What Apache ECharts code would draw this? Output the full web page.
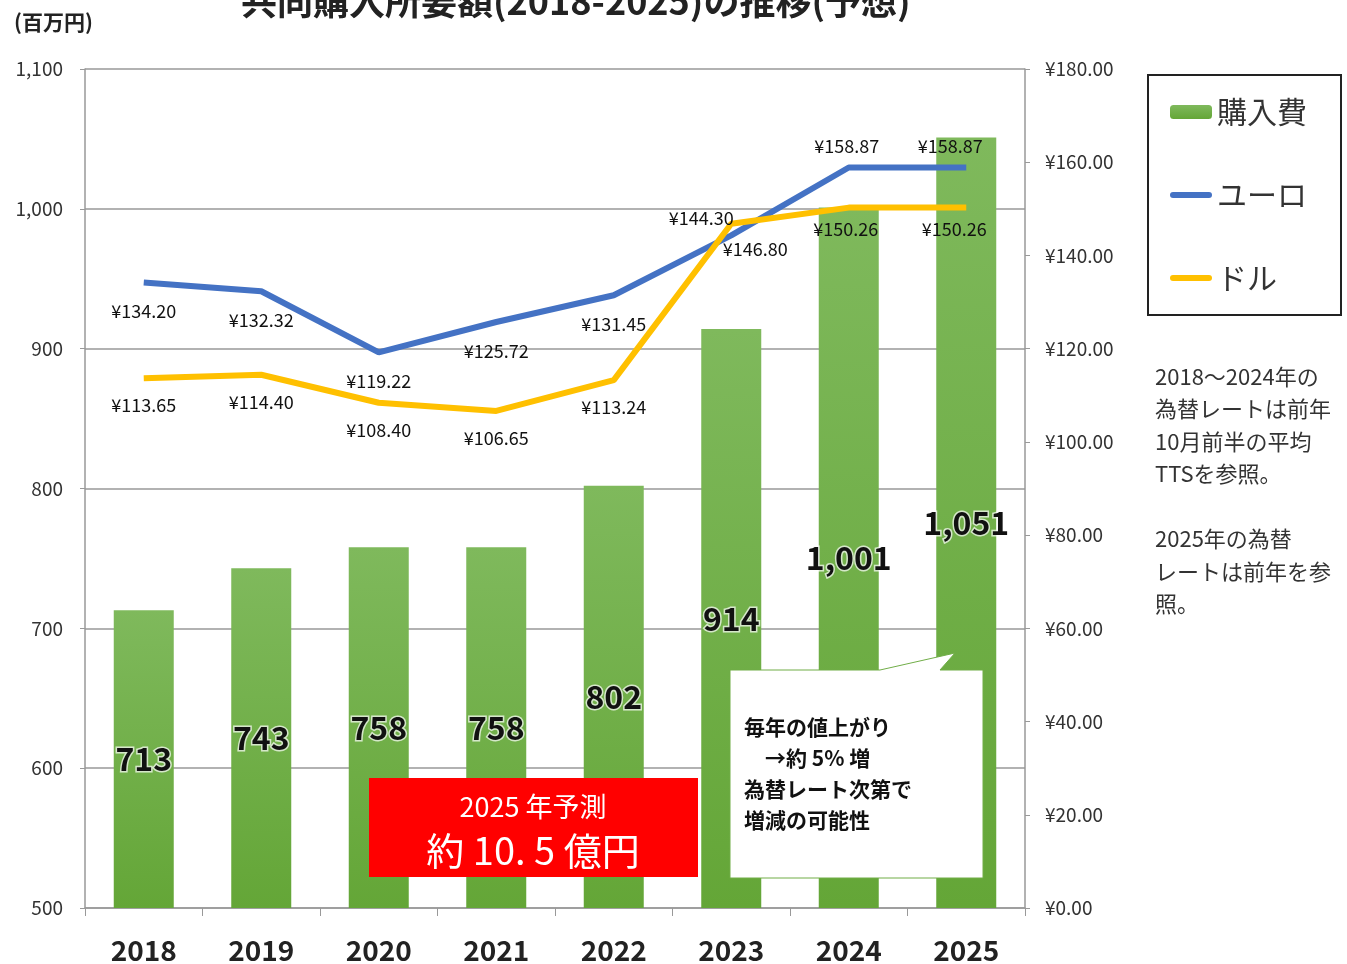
<!DOCTYPE html>
<html>
<head>
<meta charset="utf-8">
<script src="https://cdn.jsdelivr.net/npm/echarts@6/dist/echarts.min.js"></script>
<style>
html, body { margin: 0; padding: 0; background: #fff; }
#chart { width: 1347px; height: 964px; }
</style>
</head>
<body>
<div id="chart"></div>
<script>
var years = ['2018', '2019', '2020', '2021', '2022', '2023', '2024', '2025'];
var cost = [713, 743, 758, 758, 802, 914, 1001, 1051];
var euro = [134.20, 132.32, 119.22, 125.72, 131.45, 144.30, 158.87, 158.87];
var dollar = [113.65, 114.40, 108.40, 106.65, 113.24, 146.80, 150.26, 150.26];
var font = '"Noto Sans CJK JP", "Noto Sans", sans-serif';
var lineIcon = 'path://M3,0 L39,0 A3,3 0 0 1 39,6 L3,6 A3,3 0 0 1 3,0 Z';

// euro labels: below for the first years, above from 2023
var euroOffsets = [[0, 0], [0, 0], [0, 0], [0, 0], [0, 0], [-30, 4], [-2, 0], [-16, 0]];
var euroData = euro.map(function (v, i) {
	return {
		value: v,
		label: { position: i < 5 ? 'bottom' : 'top', distance: i < 5 ? 20 : 12, offset: euroOffsets[i] }
	};
});
var dollarOffsets = [[0, 0], [0, 0], [0, 0], [0, 0], [0, 0], [24, -2], [-3, -5], [-12, -5]];
var dollarData = dollar.map(function (v, i) {
	return { value: v, label: { offset: dollarOffsets[i] } };
});

var chart = echarts.init(document.getElementById('chart'));
chart.setOption({
	textStyle: { fontFamily: font },
	title: {
		text: '共同購入所要額(2018-2025)の推移(予想)',
		left: 236,
		top: -22,
		textStyle: { fontSize: 36, fontWeight: 'bold', color: '#222', fontFamily: font }
	},
	grid: { left: 85, right: 322, top: 69, bottom: 56 },
	legend: {
		orient: 'vertical',
		left: 1148,
		top: 75,
		width: 150,
		padding: [22, 34, 22, 22],
		itemGap: 53,
		itemWidth: 42,
		itemHeight: 14,
		borderColor: '#222',
		borderWidth: 2,
		data: [
			{ name: '購入費' },
			{ name: 'ユーロ', icon: lineIcon },
			{ name: 'ドル', icon: lineIcon }
		],
		textStyle: { fontSize: 30, color: '#333', padding: [0, 24, 0, 0] }
	},
	xAxis: {
		type: 'category',
		data: years,
		axisLine: { lineStyle: { color: '#999', width: 1.5 } },
		axisTick: { show: true, length: 8, lineStyle: { color: '#999' } },
		axisLabel: { fontSize: 28, fontWeight: 'bold', color: '#222', margin: 28 }
	},
	yAxis: [{
		type: 'value',
		min: 500,
		max: 1100,
		interval: 100,
		axisLine: { show: true, lineStyle: { color: '#999', width: 1.5 } },
		axisTick: { show: true, length: 5, lineStyle: { color: '#999' } },
		splitLine: { lineStyle: { color: '#999', width: 1.5 } },
		axisLabel: {
			fontSize: 19,
			color: '#333',
			margin: 22,
			formatter: function (v) { return v.toLocaleString('en-US'); }
		}
	}, {
		type: 'value',
		min: 0,
		max: 180,
		interval: 20,
		position: 'right',
		axisLine: { show: true, lineStyle: { color: '#999', width: 1.5 } },
		axisTick: { show: true, length: 5, lineStyle: { color: '#999' } },
		splitLine: { show: false },
		axisLabel: {
			fontSize: 19,
			color: '#333',
			margin: 20,
			formatter: function (v) { return '¥' + v.toFixed(2); }
		}
	}],
	series: [{
		name: '購入費',
		type: 'bar',
		data: cost,
		barWidth: 60,
		itemStyle: {
			color: new echarts.graphic.LinearGradient(0, 0, 0, 1, [
				{ offset: 0, color: '#7fb95c' },
				{ offset: 1, color: '#64a637' }
			])
		},
		label: {
			show: true,
			position: 'inside',
			fontSize: 32,
			fontWeight: 'bold',
			color: '#111',
			textBorderColor: 'rgba(255,255,255,0.7)',
			textBorderWidth: 3,
			formatter: function (p) { return p.value.toLocaleString('en-US'); }
		},
		z: 2
	}, {
		name: 'ユーロ',
		type: 'line',
		yAxisIndex: 1,
		data: euroData,
		symbol: 'circle',
		symbolSize: 0,
		showSymbol: true,
		lineStyle: { color: '#4472c4', width: 6 },
		itemStyle: { color: '#4472c4' },
		label: {
			show: true,
			fontSize: 18,
			color: '#111',
			formatter: function (p) { return '¥' + p.value.toFixed(2); }
		},
		z: 3
	}, {
		name: 'ドル',
		type: 'line',
		yAxisIndex: 1,
		data: dollarData,
		symbol: 'circle',
		symbolSize: 0,
		showSymbol: true,
		lineStyle: { color: '#ffc000', width: 6 },
		itemStyle: { color: '#ffc000' },
		label: {
			show: true,
			position: 'bottom',
			distance: 18,
			fontSize: 18,
			color: '#111',
			formatter: function (p) { return '¥' + p.value.toFixed(2); }
		},
		z: 3
	}],
	graphic: [{
		type: 'text',
		left: 14,
		top: 12,
		style: { text: '(百万円)', font: 'bold 21px ' + font, fill: '#222' }
	}, {
		type: 'text',
		left: 1155,
		top: 360,
		style: {
			text: '2018〜2024年の\n為替レートは前年\n10月前半の平均\nTTSを参照。\n\n2025年の為替\nレートは前年を参\n照。',
			font: '22px ' + font,
			lineHeight: 32.5,
			fill: '#333'
		}
	}, {
		type: 'rect',
		z: 100,
		shape: { x: 369, y: 778, width: 329, height: 99 },
		style: { fill: '#ff0000' }
	}, {
		type: 'text',
		z: 101,
		x: 533, y: 807,
		style: { text: '2025 年予測', font: '27px ' + font, fill: '#fff', align: 'center', verticalAlign: 'middle' }
	}, {
		type: 'text',
		z: 101,
		x: 533, y: 851,
		style: { text: '約 10. 5 億円', font: '38px ' + font, fill: '#fff', align: 'center', verticalAlign: 'middle' }
	}, {
		type: 'polygon',
		z: 100,
		shape: { points: [[730, 670], [880, 670], [955, 653], [940, 670], [983, 670], [983, 878], [730, 878]] },
		style: { fill: '#fff', stroke: '#70ad47', lineWidth: 1 }
	}, {
		type: 'text',
		z: 101,
		x: 744, y: 712,
		style: {
			text: '毎年の値上がり\n　→約 5% 増\n為替レート次第で\n増減の可能性',
			font: 'bold 21px ' + font,
			lineHeight: 31,
			fill: '#111'
		}
	}]
});
</script>
</body>
</html>
